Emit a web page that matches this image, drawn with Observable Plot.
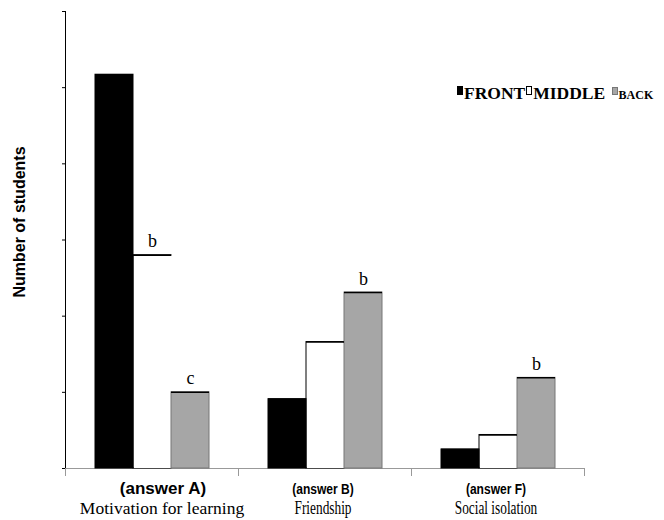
<!DOCTYPE html>
<html>
<head>
<meta charset="utf-8">
<script src="https://cdn.jsdelivr.net/npm/d3@7"></script>
<script src="https://cdn.jsdelivr.net/npm/@observablehq/plot@0.6"></script>
<style>
  body { margin: 0; background: #fff; }
  #wrap { position: relative; width: 664px; height: 520px; }
  #legend { position: absolute; left: 457px; top: 83px; font-family: "Liberation Serif", serif; font-weight: bold; font-size: 17.5px; white-space: nowrap; color: #000; }
  #legend .box { display: inline-block; width: 6px; height: 9px; vertical-align: 4px; margin-right: 1px; box-sizing: border-box; }
  #legend .small { font-size: 12px; }
</style>
</head>
<body>
<div id="wrap">
  <div id="chart"></div>
  <div id="legend"><span class="box" style="background:#000"></span>FRONT<span class="box" style="background:#fff;border:1px solid #000;margin-left:1px"></span>MIDDLE&nbsp;<span class="box" style="background:#a6a6a6;border:1px solid #777;margin-left:2px;height:8px"></span><span class="small">BACK</span></div>
</div>
<script>
// ---- data ----
const groups = ["(answer A)", "(answer B)", "(answer F)"];
const groupNames = ["Motivation for learning", "Friendship", "Social isolation"];
const positions = ["FRONT", "MIDDLE", "BACK"];
const frontValues = [51.7, 9.1, 2.5];
const middleValues = [28.0, 16.6, 4.4];
const backValues = [10.0, 23.1, 11.9];
const middleLetters = ["b", "", ""];
const backLetters = ["c", "b", "b"];
const yTicks = [0, 10, 20, 30, 40, 50, 60];
const positionColors = ["#000000", "#ffffff", "#a6a6a6"];
const positionStrokes = ["#000000", "#000000", "#777777"];

// ---- table built from the arrays ----
const seriesValues = [frontValues, middleValues, backValues];
const seriesLetters = [[], middleLetters, backLetters];
const table = [];
positions.forEach((p, j) => {
  groups.forEach((g, i) => {
    table.push({group: g, position: p, value: seriesValues[j][i], letter: seriesLetters[j][i] || ""});
  });
});
const groupTable = groups.map((g, i) => ({group: g, name: groupNames[i], big: i === 0}));
const middleRows = table.filter((d) => d.position === "MIDDLE");
const otherRows = table.filter((d) => d.position !== "MIDDLE");

const sans = "'Liberation Sans', Arial, sans-serif";
const serif = "'Liberation Serif', 'Times New Roman', serif";

const chart = Plot.plot({
  width: 664,
  height: 520,
  marginLeft: 65,
  marginRight: 80,
  marginTop: 11,
  marginBottom: 52,
  style: {background: "#fff", overflow: "visible"},
  fx: {domain: groups, padding: 0, axis: null},
  x: {domain: positions, paddingInner: 0, paddingOuter: 0.75, axis: null},
  y: {domain: [0, 60]},
  color: {domain: positions, range: positionColors},
  marks: [
    Plot.axisY({ticks: yTicks, tickSize: 3, tickFormat: () => "", label: null, stroke: "#000"}),
    Plot.ruleY([0], {stroke: "#999"}),
    // white bars: outlined, then covered so only top and left edges remain
    Plot.barY(middleRows, {fx: "group", x: "position", y: "value", fill: "position", stroke: "#000", strokeWidth: 1, inset: 0}),
    Plot.barY(middleRows, {fx: "group", x: "position", y: "value", fill: "position", insetLeft: 1, insetTop: 1, insetRight: -1, insetBottom: 0}),
    Plot.barY(otherRows, {fx: "group", x: "position", y: "value", fill: "position",
      stroke: (d) => positionStrokes[positions.indexOf(d.position)], strokeWidth: 1, inset: 0}),
    Plot.tickY(table, {fx: "group", x: "position", y: "value", stroke: "#000", strokeWidth: 1.5}),
    Plot.text(table.filter((d) => d.letter), {fx: "group", x: "position", y: "value", text: "letter",
      dy: -8, lineAnchor: "bottom", fontFamily: serif, fontSize: 18, fill: "#000"}),
    Plot.frame({anchor: "left", facetAnchor: "left", stroke: "#000"}),
    Plot.frame({anchor: "left", insetTop: 457, insetBottom: -7, stroke: "#999"}),
    Plot.frame({anchor: "right", facetAnchor: "right", insetTop: 457, insetBottom: -7, stroke: "#999"}),
    Plot.text(groupTable.filter((d) => d.big), {fx: "group", text: "group", frameAnchor: "bottom", dy: 25, dx: 11,
      fontFamily: sans, fontWeight: "bold", fontSize: 17, fill: "#000"}),
    Plot.text(groupTable.filter((d) => d.big), {fx: "group", text: "name", frameAnchor: "bottom", dy: 45, dx: 10,
      fontFamily: serif, fontSize: 17.5, fill: "#000"}),
    Plot.text(groupTable.filter((d) => !d.big), {fx: "group", text: "group", frameAnchor: "bottom", dy: 25, dx: -2,
      fontFamily: sans, fontWeight: "bold", fontSize: 14, fill: "#000", className: "condensed-a"}),
    Plot.text(groupTable.filter((d) => !d.big), {fx: "group", text: "name", frameAnchor: "bottom", dy: 45, dx: -2,
      fontFamily: serif, fontSize: 18.5, fill: "#000", className: "condensed-b"}),
    Plot.text(["Number of students"], {frameAnchor: "left", facetAnchor: "left", rotate: -90, dx: -46, dy: -18,
      textAnchor: "middle", fontFamily: sans, fontWeight: "bold", fontSize: 16, fill: "#000"})
  ]
});
document.getElementById("chart").appendChild(chart);

// horizontally condense the narrow labels
function condense(selector, factor) {
  chart.querySelectorAll(selector + " text").forEach((t) => {
    const w = t.getComputedTextLength();
    t.setAttribute("textLength", (w * factor).toFixed(1));
    t.setAttribute("lengthAdjust", "spacingAndGlyphs");
  });
}
condense(".condensed-a", 0.86);
condense(".condensed-b", 0.72);
</script>
</body>
</html>
